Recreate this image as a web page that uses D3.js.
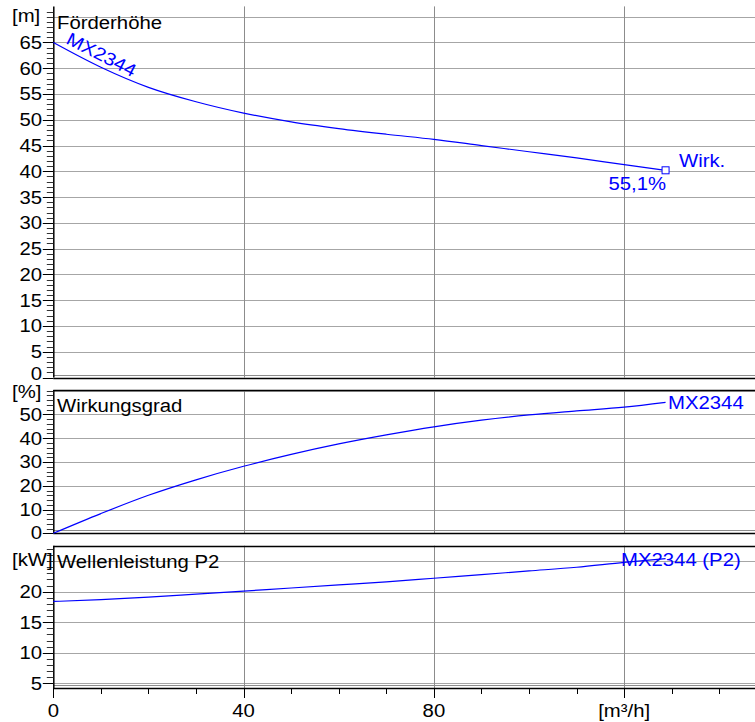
<!DOCTYPE html>
<html>
<head>
    <script src="https://d3js.org/d3.v7.min.js"></script>
    <style>
        body { margin: 0; background: #fff; }
        text { font-family: "Liberation Sans", Arial, sans-serif; }
    </style>
</head>
<body>
<script>
    // flow values [m3/h]
    var flow = [0, 10, 20, 30, 40, 50, 60, 70, 80, 90, 100, 110, 120, 128.7];
    // Förderhöhe [m]
    var head = [65, 60.2, 56.3, 53.5, 51.3, 49.6, 48.3, 47.2, 46.2, 45.0, 43.8, 42.6, 41.3, 40.2];
    // Wirkungsgrad [%]
    var eff = [0, 8.3, 16.0, 22.5, 28.2, 33.2, 37.6, 41.4, 44.8, 47.6, 49.8, 51.5, 53.1, 55.1];
    // Wellenleistung P2 [kW]
    var power = [18.4, 18.7, 19.1, 19.6, 20.1, 20.6, 21.1, 21.6, 22.2, 22.8, 23.4, 24.0, 24.8, 25.4];

    var xTicks = [0, 40, 80, 120];
    var xTickLabels = ['0', '40', '80', '[m³/h]'];
    var headTicks = [0, 5, 10, 15, 20, 25, 30, 35, 40, 45, 50, 55, 60, 65];
    var effTicks = [0, 10, 20, 30, 40, 50];
    var powerTicks = [5, 10, 15, 20];

    var width = 755, height = 722;
    var blue = '#0000ff';
    var sx = 1.13; // the text in the picture is a bit wide
    var fs = 18;

    var svg = d3.select('body').append('svg').attr('width', width).attr('height', height);

    var x = d3.scaleLinear().domain([0, 147.5]).range([53.3, 755]);

    // text helper, stretched horizontally
    function txt(g, px, py, s, anchor, color) {
        return g.append('text')
            .attr('transform', 'translate(' + px + ',' + py + ') scale(' + sx + ',1)')
            .attr('text-anchor', anchor || 'start')
            .attr('fill', color || '#000')
            .attr('font-size', fs)
            .text(s);
    }

    // one panel of the chart
    function panel(cfg) {
        var y = d3.scaleLinear().domain(cfg.domain).range(cfg.range);
        var g = svg.append('g');
        var top = cfg.range[1], bottom = cfg.range[0];

        // horizontal grid
        var gridVals = d3.range(cfg.gridFrom, cfg.domain[1], cfg.gridStep);
        g.selectAll('.hg').data(gridVals).enter().append('line')
            .attr('x1', x(0)).attr('x2', width)
            .attr('y1', function(d) { return Math.round(y(d)) + 0.5; })
            .attr('y2', function(d) { return Math.round(y(d)) + 0.5; })
            .attr('stroke', '#a6a6a6');
        // line just above the bottom edge
        g.append('line').attr('x1', x(0)).attr('x2', width)
            .attr('y1', Math.round(bottom) - 2.5).attr('y2', Math.round(bottom) - 2.5)
            .attr('stroke', '#8c8c8c');

        // vertical grid
        g.selectAll('.vg').data(xTicks.slice(1)).enter().append('line')
            .attr('x1', function(d) { return Math.round(x(d)) + 0.5; })
            .attr('x2', function(d) { return Math.round(x(d)) + 0.5; })
            .attr('y1', top).attr('y2', bottom)
            .attr('stroke', '#8c8c8c');

        // frame
        g.append('line').attr('x1', x(0)).attr('x2', width)
            .attr('y1', Math.round(bottom) + 0.5).attr('y2', Math.round(bottom) + 0.5)
            .attr('stroke', '#000').attr('stroke-width', 1.5);
        if (cfg.topLine) {
            g.append('line').attr('x1', x(0)).attr('x2', width)
                .attr('y1', Math.round(top) + 0.5).attr('y2', Math.round(top) + 0.5)
                .attr('stroke', '#000').attr('stroke-width', 1.5);
        }
        g.append('line').attr('x1', x(0) + 0.5).attr('x2', x(0) + 0.5)
            .attr('y1', top).attr('y2', bottom)
            .attr('stroke', '#000').attr('stroke-width', 1.5);

        // minor and major ticks on the left
        var minor = d3.range(cfg.minorFrom, cfg.domain[1], cfg.minorStep);
        g.selectAll('.mt').data(minor).enter().append('line')
            .attr('x1', x(0) - 6.5).attr('x2', x(0))
            .attr('y1', function(d) { return Math.round(y(d)) + 0.5; })
            .attr('y2', function(d) { return Math.round(y(d)) + 0.5; })
            .attr('stroke', '#333');
        g.selectAll('.Mt').data(cfg.ticks).enter().append('line')
            .attr('x1', x(0) - 10.5).attr('x2', x(0))
            .attr('y1', function(d) { return Math.round(y(d)) + 0.5; })
            .attr('y2', function(d) { return Math.round(y(d)) + 0.5; })
            .attr('stroke', '#000');
        cfg.ticks.forEach(function(t, i) {
            var ty = y(t) + 6.4;
            if (i === 0) ty -= cfg.zeroShift || 0;
            txt(g, 42, ty, String(t), 'end');
        });

        txt(g, 12, cfg.unitY, cfg.unit, 'start');
        txt(g, 57, cfg.titleY, cfg.title, 'start');

        // curve
        var line = d3.line()
            .x(function(d, i) { return x(flow[i]); })
            .y(function(d) { return y(d); })
            .curve(d3.curveMonotoneX);
        g.append('path').datum(cfg.values)
            .attr('d', line)
            .attr('fill', 'none')
            .attr('stroke', blue)
            .attr('stroke-width', 1.2);

        return { g: g, y: y };
    }

    var pHead = panel({
        domain: [0, 72], range: [377.5, 6.4], ticks: headTicks,
        gridStep: 5, gridFrom: 5, minorStep: 1, minorFrom: 0,
        unit: '[m]', unitY: 22, title: 'Förderhöhe', titleY: 29,
        values: head, topLine: false, zeroShift: 3.5
    });
    var pEff = panel({
        domain: [0, 60.3], range: [533.3, 390], ticks: effTicks,
        gridStep: 10, gridFrom: 10, minorStep: 2, minorFrom: 0,
        unit: '[%]', unitY: 398, title: 'Wirkungsgrad', titleY: 411.5,
        values: eff, topLine: true, zeroShift: 1
    });
    var pPow = panel({
        domain: [4.23, 27.53], range: [688, 545.7], ticks: powerTicks,
        gridStep: 5, gridFrom: 5, minorStep: 1, minorFrom: 5,
        unit: '[kW]', unitY: 566, title: 'Wellenleistung P2', titleY: 568,
        values: power, topLine: true
    });

    // curve labels
    var last = flow.length - 1;
    txt(pHead.g, 0, 0, 'MX2344', 'start', blue)
        .attr('transform', 'translate(65,43) rotate(27) scale(' + sx + ',1)');

    pHead.g.append('rect')
        .attr('x', x(flow[last]) - 3.5).attr('y', pHead.y(head[last]) - 3.5)
        .attr('width', 7).attr('height', 7)
        .attr('fill', '#fff').attr('stroke', blue);
    txt(pHead.g, 679, 167, 'Wirk.', 'start', blue);
    txt(pHead.g, 666, 190, '55,1%', 'end', blue);

    txt(pEff.g, 668, pEff.y(eff[last]) + 7, 'MX2344', 'start', blue);
    txt(pPow.g, 621, pPow.y(power[last]) + 7, 'MX2344 (P2)', 'start', blue);

    // x axis ticks below the last panel
    var xa = svg.append('g');
    xa.selectAll('.xm').data(d3.range(0, 147, 10)).enter().append('line')
        .attr('x1', function(d) { return Math.round(x(d)) + 0.5; })
        .attr('x2', function(d) { return Math.round(x(d)) + 0.5; })
        .attr('y1', 688).attr('y2', function(d) { return d % 40 === 0 ? 698 : 694; })
        .attr('stroke', '#000');
    xTicks.forEach(function(t, i) {
        txt(xa, x(t), 717, xTickLabels[i], 'middle');
    });
</script>
</body>
</html>
